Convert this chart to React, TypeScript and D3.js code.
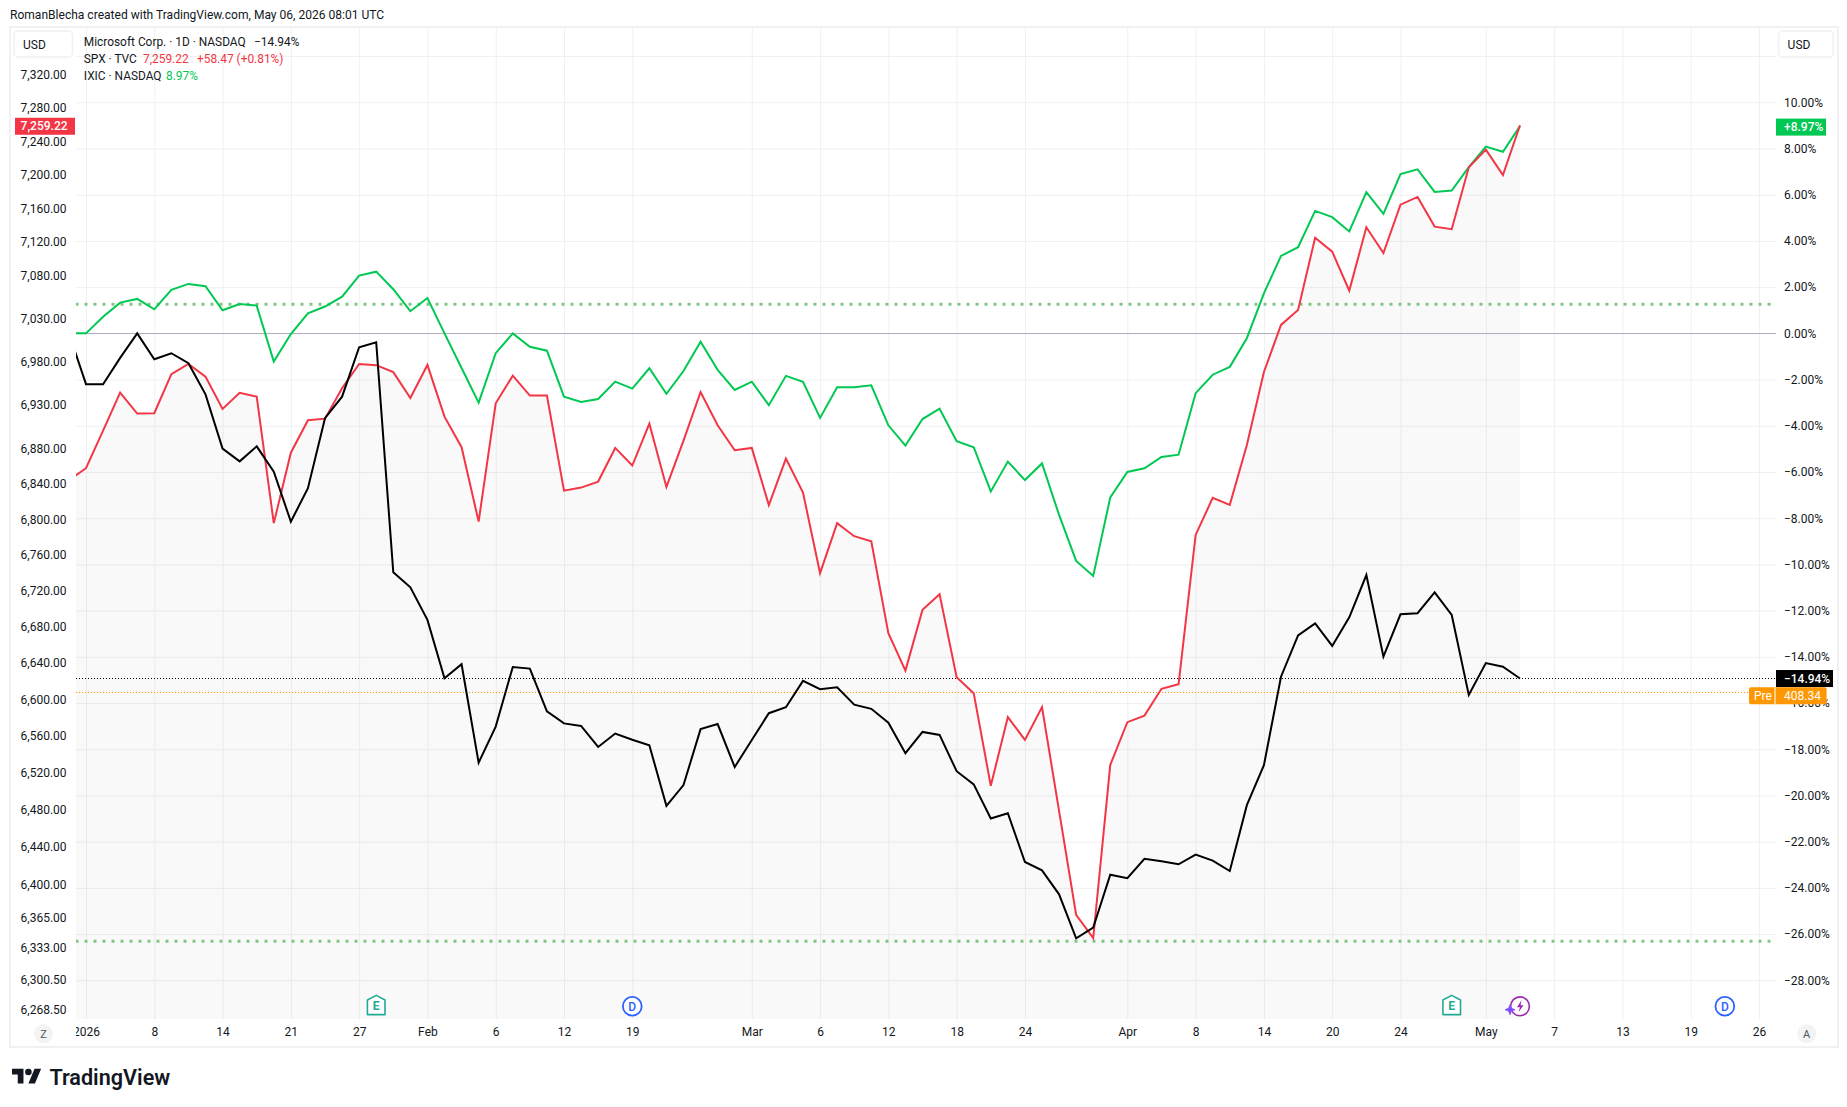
import { useEffect, useRef } from 'react';
import * as d3 from 'd3';

// first value of every series is Dec 31 (bar -1), just left of the pane
const msftPct = [
  0, -2.20, -2.20, -1.06, 0, -1.12, -0.86, -1.29, -2.64, -4.99, -5.54, -4.89, -5.99, -8.15, -6.70, -3.67, -2.74,
  -0.60, -0.39, -10.34, -10.99, -12.40, -14.93, -14.32, -18.58, -17.02, -14.44, -14.51, -16.36, -16.88, -16.99,
  -17.90, -17.32, -17.59, -17.83, -20.45, -19.55, -17.13, -16.91, -18.77, -17.60, -16.44, -16.18, -15.04, -15.40,
  -15.32, -16.07, -16.25, -16.85, -18.17, -17.25, -17.38, -18.95, -19.52, -21.00, -20.77, -22.88, -23.24, -24.28,
  -26.18, -25.72, -23.43, -23.58, -22.74, -22.85, -22.98, -22.56, -22.82, -23.27, -20.42, -18.69, -14.86, -13.07,
  -12.55, -13.53, -12.29, -10.46, -13.99, -12.16, -12.11, -11.21, -12.19, -15.65, -14.27, -14.43, -14.94
];

const ixicPct = [
  0, 0, 0.72, 1.33, 1.49, 1.04, 1.88, 2.14, 2.04, 1.00, 1.27, 1.20, -1.22, -0.03, 0.87, 1.16, 1.59, 2.50, 2.67,
  1.91, 0.96, 1.53, 0, -1.50, -3.00, -0.86, 0, -0.58, -0.75, -2.74, -2.97, -2.84, -2.09, -2.39, -1.51, -2.62,
  -1.63, -0.36, -1.58, -2.45, -2.09, -3.11, -1.84, -2.10, -3.66, -2.33, -2.33, -2.25, -3.98, -4.86, -3.71, -3.26,
  -4.67, -4.93, -6.84, -5.55, -6.35, -5.63, -7.86, -9.85, -10.50, -7.10, -6.00, -5.84, -5.35, -5.25, -2.59, -1.79,
  -1.45, -0.21, 1.73, 3.35, 3.73, 5.30, 5.03, 4.41, 6.11, 5.17, 6.89, 7.10, 6.12, 6.18, 7.19, 8.08, 7.86, 8.97
];

const spxClose = [
  6844.0, 6857.8, 6900.7, 6944.3, 6920.2, 6920.7, 6965.6, 6977.4, 6962.8, 6925.5, 6944.0, 6939.7, 6795.6, 6875.5,
  6912.6, 6914.4, 6949.4, 6977.4, 6976.0, 6967.9, 6938.2, 6976.3, 6916.7, 6881.7, 6797.4, 6932.1, 6963.9, 6940.9,
  6940.9, 6832.3, 6835.8, 6842.6, 6880.9, 6860.8, 6908.7, 6836.5, 6889.2, 6945.1, 6906.9, 6878.3, 6880.9, 6815.9,
  6868.7, 6830.1, 6739.4, 6795.6, 6780.9, 6775.2, 6672.7, 6631.4, 6698.5, 6716.0, 6624.2, 6606.6, 6505.9, 6580.4,
  6555.6, 6591.3, 6478.9, 6368.2, 6343.5, 6528.5, 6574.9, 6582.1, 6611.4, 6616.5, 6782.3, 6824.1, 6816.2, 6884.2,
  6968.2, 7022.7, 7040.2, 7125.1, 7108.6, 7062.8, 7137.4, 7107.0, 7164.2, 7173.4, 7138.2, 7135.1, 7208.8, 7229.9,
  7199.6, 7259.22
];

const priceTicks = [
  7320, 7280, 7240, 7200, 7160, 7120, 7080, 7030, 6980, 6930, 6880, 6840, 6800, 6760, 6720, 6680, 6640, 6600, 6560,
  6520, 6480, 6440, 6400, 6365, 6333, 6300.5, 6268.5
];
const pctTicks = [10, 8, 6, 4, 2, 0, -2, -4, -6, -8, -10, -12, -14, -16, -18, -20, -22, -24, -26, -28];
const pctGrid = [12, ...pctTicks];

const timeTickBars = [0, 4, 8, 12, 16, 20, 24, 28, 32, 39, 43, 47, 51, 55, 61, 65, 69, 73, 77, 82, 86, 90, 94, 98];
const timeTickLabels = [
  '2026', '8', '14', '21', '27', 'Feb', '6', '12', '19', 'Mar', '6', '12', '18', '24', 'Apr', '8', '14', '20', '24',
  'May', '7', '13', '19', '26'
];

const earningsBars = [17, 80];
const dividendBars = [32, 96];
const newsBar = 84;

const FONT = 'Roboto, sans-serif';
const TEXT = '#131722';
const RED = '#f23645';
const GREEN = '#00c853';
const ORANGE = '#ff9800';

const pane = { left: 76, right: 1776, top: 27, bottom: 1019 };

export default function App() {
  const svgRef = useRef<SVGSVGElement>(null);

  useEffect(() => {
    const svg = d3.select(svgRef.current);
    svg.selectAll('*').remove();

    const x = d3.scaleLinear().domain([0, 84]).range([86, 1520]);
    const yPct = d3.scaleLinear().domain([10, -28]).range([102.3, 980.3]);
    const yPrice = d3.scaleLog().domain([7320, 6400]).range([75, 884.7]);
    const barOf = (_: number, i: number) => x(i - 1);

    const defs = svg.append('defs');
    defs.append('clipPath').attr('id', 'pane').append('rect')
      .attr('x', pane.left).attr('y', pane.top)
      .attr('width', pane.right - pane.left).attr('height', pane.bottom - pane.top);
    defs.append('clipPath').attr('id', 'timeaxis').append('rect')
      .attr('x', pane.left).attr('y', pane.bottom)
      .attr('width', pane.right - pane.left).attr('height', 28);

    svg.append('text')
      .attr('x', 10).attr('y', 15).attr('dy', '0.35em')
      .attr('font-size', 12.05).attr('fill', TEXT)
      .text('RomanBlecha created with TradingView.com, May 06, 2026 08:01 UTC');

    // Frame
    svg.append('rect')
      .attr('x', 10).attr('y', 27).attr('width', 1828).attr('height', 1020)
      .attr('fill', 'none').attr('stroke', '#f1f1f1').attr('stroke-width', 2);

    // Grid
    svg.append('g')
      .attr('transform', `translate(0,${pane.bottom})`)
      .call(d3.axisBottom(x).tickValues(timeTickBars).tickSize(-(pane.bottom - pane.top)).tickFormat(() => '') as any)
      .call(g => g.select('.domain').remove())
      .selectAll('line').attr('stroke', '#f0f0f0');
    svg.append('g')
      .attr('transform', `translate(${pane.left},0)`)
      .call(d3.axisRight(yPct).tickValues(pctGrid).tickSize(pane.right - pane.left).tickFormat(() => '') as any)
      .call(g => g.select('.domain').remove())
      .selectAll('line').attr('stroke', '#f0f0f0');

    const plot = svg.append('g').attr('clip-path', 'url(#pane)');

    // SPX area, very light, down to the pane bottom
    const area = d3.area<number>().x(barOf).y0(pane.bottom).y1(d => yPrice(d));
    plot.append('path').datum(spxClose).attr('d', area).attr('fill', '#000').attr('fill-opacity', 0.022);

    // Zero line
    plot.append('line')
      .attr('x1', pane.left).attr('x2', pane.right)
      .attr('y1', 333.5).attr('y2', 333.5)
      .attr('stroke', '#b2b0c0').attr('stroke-width', 1);

    // High / low guides
    [304.3, 941.3].forEach(y => {
      plot.append('line')
        .attr('x1', pane.left).attr('x2', pane.right)
        .attr('y1', y).attr('y2', y)
        .attr('stroke', '#81c784').attr('stroke-width', 3)
        .attr('stroke-dasharray', '3 6').attr('stroke-dashoffset', 0.5);
    });

    // Last value lines
    const lastLine = (y: number, color: string) => {
      plot.append('line')
        .attr('x1', pane.left).attr('x2', pane.right)
        .attr('y1', y).attr('y2', y)
        .attr('stroke', color).attr('stroke-width', 1)
        .attr('stroke-dasharray', '1 2');
    };
    lastLine(678.5, '#000');
    lastLine(692.5, ORANGE);

    const pctLine = d3.line<number>().x(barOf).y(d => yPct(d));
    const priceLine = d3.line<number>().x(barOf).y(d => yPrice(d));

    plot.append('path').datum(ixicPct).attr('d', pctLine)
      .attr('fill', 'none').attr('stroke', GREEN).attr('stroke-width', 2);
    plot.append('path').datum(spxClose).attr('d', priceLine)
      .attr('fill', 'none').attr('stroke', RED).attr('stroke-width', 2);
    plot.append('path').datum(msftPct).attr('d', pctLine)
      .attr('fill', 'none').attr('stroke', '#000').attr('stroke-width', 2);

    // Axes
    const styleAxis = (g: any) => {
      g.select('.domain').remove();
      g.selectAll('text').attr('fill', TEXT).attr('font-size', 12).attr('font-family', FONT);
    };
    svg.append('g')
      .attr('transform', 'translate(20.6,0)')
      .call(d3.axisRight(yPrice).tickValues(priceTicks).tickSize(0).tickPadding(0).tickFormat(d3.format(',.2f') as any) as any)
      .call(styleAxis);
    svg.append('g')
      .attr('transform', 'translate(1784,0)')
      .call(d3.axisRight(yPct).tickValues(pctTicks).tickSize(0).tickPadding(0)
        .tickFormat(d => `${+d < 0 ? '\u2212' : ''}${Math.abs(+d).toFixed(2)}%`) as any)
      .call(styleAxis);
    svg.append('g')
      .attr('clip-path', 'url(#timeaxis)')
      .append('g')
      .attr('transform', `translate(0,${pane.bottom + 8})`)
      .call(d3.axisBottom(x).tickValues(timeTickBars).tickSize(0).tickPadding(0)
        .tickFormat((_, i) => timeTickLabels[i]) as any)
      .call(styleAxis);

    // USD buttons
    [[14, 58.4], [1778.6, 54.4]].forEach(([bx, bw]) => {
      svg.append('rect')
        .attr('x', bx).attr('y', 31).attr('width', bw).attr('height', 26).attr('rx', 4)
        .attr('fill', '#fff').attr('stroke', '#f0f0f0').attr('stroke-width', 1.5);
      svg.append('text')
        .attr('x', bx + 9).attr('y', 44.5).attr('dy', '0.35em')
        .attr('font-size', 12).attr('fill', TEXT).text('USD');
    });

    // Z / A buttons
    [[43.5, 'Z'], [1806.7, 'A']].forEach(([cx, label]) => {
      svg.append('circle').attr('cx', cx as number).attr('cy', 1033.7).attr('r', 9.5).attr('fill', '#f3f3f3');
      svg.append('text')
        .attr('x', cx as number).attr('y', 1033.7).attr('dy', '0.35em').attr('text-anchor', 'middle')
        .attr('font-size', 11).attr('fill', '#50535e').text(label as string);
    });

    // Legend
    const legendRow = (y: number, parts: [number, string, string][]) => {
      parts.forEach(([lx, str, color]) => {
        svg.append('text')
          .attr('x', lx).attr('y', y).attr('dy', '0.35em')
          .attr('font-size', 11.9).attr('fill', color).text(str);
      });
    };
    legendRow(41.7, [[83.8, 'Microsoft Corp. \u00b7 1D \u00b7 NASDAQ', TEXT], [254, '\u221214.94%', TEXT]]);
    legendRow(58.7, [[83.8, 'SPX \u00b7 TVC', TEXT], [143, '7,259.22', RED], [197, '+58.47 (+0.81%)', RED]]);
    legendRow(76, [[83.8, 'IXIC \u00b7 NASDAQ', TEXT], [166, '8.97%', GREEN]]);

    // Value labels on the scales
    const valueLabel = (lx: number, w: number, y: number, color: string, tx: number, str: string) => {
      svg.append('rect').attr('x', lx).attr('y', y - 8.5).attr('width', w).attr('height', 17).attr('fill', color);
      svg.append('text')
        .attr('x', tx).attr('y', y).attr('dy', '0.35em')
        .attr('font-size', 12).attr('font-weight', 500).attr('fill', '#fff').text(str);
    };
    valueLabel(15, 60, yPrice(7259.22) + 1, RED, 20.6, d3.format(',.2f')(7259.22));
    valueLabel(1776, 50, yPct(8.97) + 1, GREEN, 1784, '+8.97%');
    valueLabel(1776, 57, yPct(-14.94), '#000', 1784, '\u221214.94%');
    svg.append('rect').attr('x', 1749).attr('y', 687.3).attr('width', 77.6).attr('height', 17).attr('rx', 2).attr('fill', ORANGE);
    svg.append('line').attr('x1', 1775).attr('x2', 1775).attr('y1', 687.3).attr('y2', 704.3).attr('stroke', '#fff');
    svg.append('text').attr('x', 1754).attr('y', 695.8).attr('dy', '0.35em').attr('font-size', 12).attr('fill', '#fff').text('Pre');
    svg.append('text').attr('x', 1784).attr('y', 695.8).attr('dy', '0.35em').attr('font-size', 12).attr('fill', '#fff').text('408.34');

    // Event marks
    earningsBars.forEach(b => {
      const g = svg.append('g').attr('transform', `translate(${x(b)},1005)`);
      g.append('path')
        .attr('d', 'M-8.8 -5 L0 -9.6 L8.8 -5 L8.8 9.6 L-8.8 9.6 Z')
        .attr('fill', '#fff').attr('stroke', '#22ab94').attr('stroke-width', 1.6).attr('stroke-linejoin', 'round');
      g.append('text')
        .attr('y', 1).attr('dy', '0.35em').attr('text-anchor', 'middle')
        .attr('font-size', 12).attr('font-weight', 700).attr('fill', '#22ab94').text('E');
    });
    dividendBars.forEach(b => {
      const g = svg.append('g').attr('transform', `translate(${x(b)},1006.3)`);
      g.append('circle').attr('r', 9.4).attr('fill', '#fff').attr('stroke', '#2962ff').attr('stroke-width', 1.8);
      g.append('text')
        .attr('dy', '0.35em').attr('text-anchor', 'middle')
        .attr('font-size', 12).attr('font-weight', 500).attr('fill', '#2962ff').text('D');
    });
    const news = svg.append('g').attr('transform', `translate(${x(newsBar)},1006.3)`);
    news.append('circle').attr('r', 9.4).attr('fill', '#fff').attr('stroke', '#9c27b0').attr('stroke-width', 1.6);
    news.append('path').attr('d', 'M1.5 -6 L-3 1 L0 1 L-1.5 6 L3.5 -1 L0.5 -1 Z').attr('fill', '#9c27b0');
    news.append('path').attr('d', 'M-10 -1.6 L-8.6 2 L-5 3.4 L-8.6 4.8 L-10 8.4 L-11.4 4.8 L-15 3.4 L-11.4 2 Z').attr('fill', '#7c4dff').attr('stroke', '#7c4dff').attr('stroke-width', 0.8);

    // Logo
    const logo = svg.append('g').attr('transform', 'translate(12,1065.4) scale(0.82)').attr('fill', TEXT);
    logo.append('path').attr('d', 'M14 22H7V11H0V4h14v18zM28 22h-8l7.5-18h8L28 22z');
    logo.append('circle').attr('cx', 20).attr('cy', 8).attr('r', 4);
    svg.append('text')
      .attr('x', 49.4).attr('y', 1077).attr('dy', '0.35em')
      .attr('font-size', 21.6).attr('font-weight', 600).attr('fill', TEXT).text('TradingView');
  }, []);

  return (
    <svg
      ref={svgRef}
      width={1847}
      height={1107}
      fontFamily={FONT}
      style={{ position: 'absolute', left: 0, top: 0, background: '#fff' }}
    />
  );
}
